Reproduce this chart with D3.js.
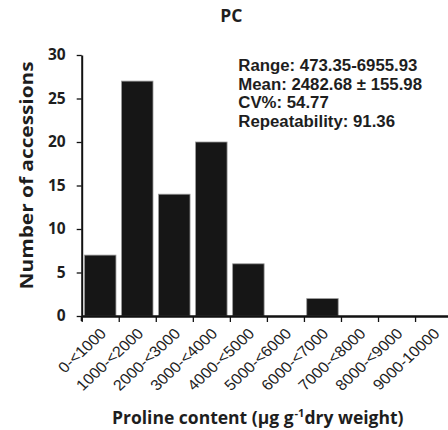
<!DOCTYPE html>
<html>
<head>
<meta charset="utf-8">
<script src="https://cdn.jsdelivr.net/npm/d3@7"></script>
<style>
  html, body { margin: 0; padding: 0; background: #fff; }
  svg { display: block; }
</style>
</head>
<body>
<svg id="chart" width="448" height="430"></svg>
<script>
const categories = ["0-<1000", "1000-<2000", "2000-<3000", "3000-<4000", "4000-<5000",
                    "5000-<6000", "6000-<7000", "7000-<8000", "8000-<9000", "9000-10000"];
const counts = [7, 27, 14, 20, 6, 0, 2, 0, 0, 0];
const yTicks = [0, 5, 10, 15, 20, 25, 30];
const statsLines = ["Range: 473.35-6955.93", "Mean: 2482.68 \u00B1 155.98", "CV%: 54.77", "Repeatability: 91.36"];
const titleText = "PC";
const yTitle = "Number of accessions";

const svg = d3.select("#chart");
const x0 = 81.7, step = 37.04;
const xRange = [x0, x0 + step * categories.length];

const x = d3.scaleBand().domain(categories).range(xRange).paddingInner(0.15).paddingOuter(0.075);
const xb = d3.scaleLinear().domain([0, categories.length]).range(xRange);
const y = d3.scaleLinear().domain([0, 30]).range([316, 55]);

// bars
svg.append("g").selectAll("rect")
  .data(categories.map((c, i) => ({c, v: counts[i]})).filter(d => d.v > 0))
  .join("rect")
  .attr("x", d => x(d.c))
  .attr("width", x.bandwidth())
  .attr("y", d => y(d.v))
  .attr("height", d => y(0) - y(d.v))
  .attr("fill", "#161616")
  .attr("stroke", "#9a9a9a")
  .attr("stroke-width", 0.8);

// x axis
const gx = svg.append("g").attr("transform", `translate(0,${y(0)})`)
  .call(d3.axisBottom(xb).ticks(10).tickFormat("").tickSize(6).tickSizeOuter(0));
gx.select(".domain").attr("stroke", "#111").attr("stroke-width", 2.4);
gx.selectAll(".tick line").attr("stroke", "#111").attr("stroke-width", 1.3);

// x tick labels (rotated)
svg.append("g").selectAll("text")
  .data(categories)
  .join("text")
  .attr("transform", d => `translate(${x(d) + x.bandwidth() / 2 + 7},${334.5}) scale(1.08,1) rotate(-45)`)
  .attr("text-anchor", "end")
  .attr("font-family", "Liberation Sans, Arial, sans-serif")
  .attr("font-size", 15)
  .attr("fill", "#1e1e1e")
  .text(d => d);

// y axis
const gy = svg.append("g").attr("transform", `translate(${x0},0)`)
  .call(d3.axisLeft(y).tickValues(yTicks).tickSize(5).tickSizeOuter(0).tickPadding(11));
gy.select(".domain").attr("stroke", "#111").attr("stroke-width", 2);
gy.selectAll(".tick line").attr("stroke", "#111").attr("stroke-width", 1.3);
gy.selectAll(".tick text")
  .attr("font-family", "Open Sans, sans-serif")
  .attr("font-weight", "bold")
  .attr("font-size", 15.5)
  .attr("fill", "#1e1e1e");
// extend y axis a bit below
svg.append("line").attr("x1", x0).attr("x2", x0).attr("y1", y(0)).attr("y2", y(0) + 5)
  .attr("stroke", "#111").attr("stroke-width", 2);

// title
svg.append("text")
  .attr("x", 231.3).attr("y", 21.5)
  .attr("text-anchor", "middle")
  .attr("font-family", "Open Sans, sans-serif")
  .attr("font-weight", "bold")
  .attr("font-size", 17.5)
  .attr("fill", "#1e1e1e")
  .text(titleText);

// y title
svg.append("text")
  .attr("transform", "translate(33,175.4) rotate(-90)")
  .attr("text-anchor", "middle")
  .attr("font-family", "Open Sans, sans-serif")
  .attr("font-weight", "bold")
  .attr("font-size", 18)
  .attr("textLength", 228)
  .attr("lengthAdjust", "spacingAndGlyphs")
  .attr("fill", "#1e1e1e")
  .text(yTitle);

// x title
const xt = svg.append("text")
  .attr("x", 112).attr("y", 424)
  .attr("font-family", "Open Sans, sans-serif")
  .attr("font-weight", "bold")
  .attr("font-size", 17.5)
  .attr("fill", "#1e1e1e");
xt.append("tspan").text("Proline content (\u03BCg g");
xt.append("tspan").attr("font-size", 11).attr("dy", -7).attr("dx", 1).text("-1");
xt.append("tspan").attr("dy", 7).text("dry weight)");

// stats
svg.append("g").selectAll("text")
  .data(statsLines)
  .join("text")
  .attr("x", 238.3)
  .attr("y", (d, i) => 71 + i * 18.6)
  .attr("font-family", "Liberation Sans, Arial, sans-serif")
  .attr("font-weight", "bold")
  .attr("font-size", 16.8)
  .attr("fill", "#1e1e1e")
  .text(d => d);
</script>
</body>
</html>
